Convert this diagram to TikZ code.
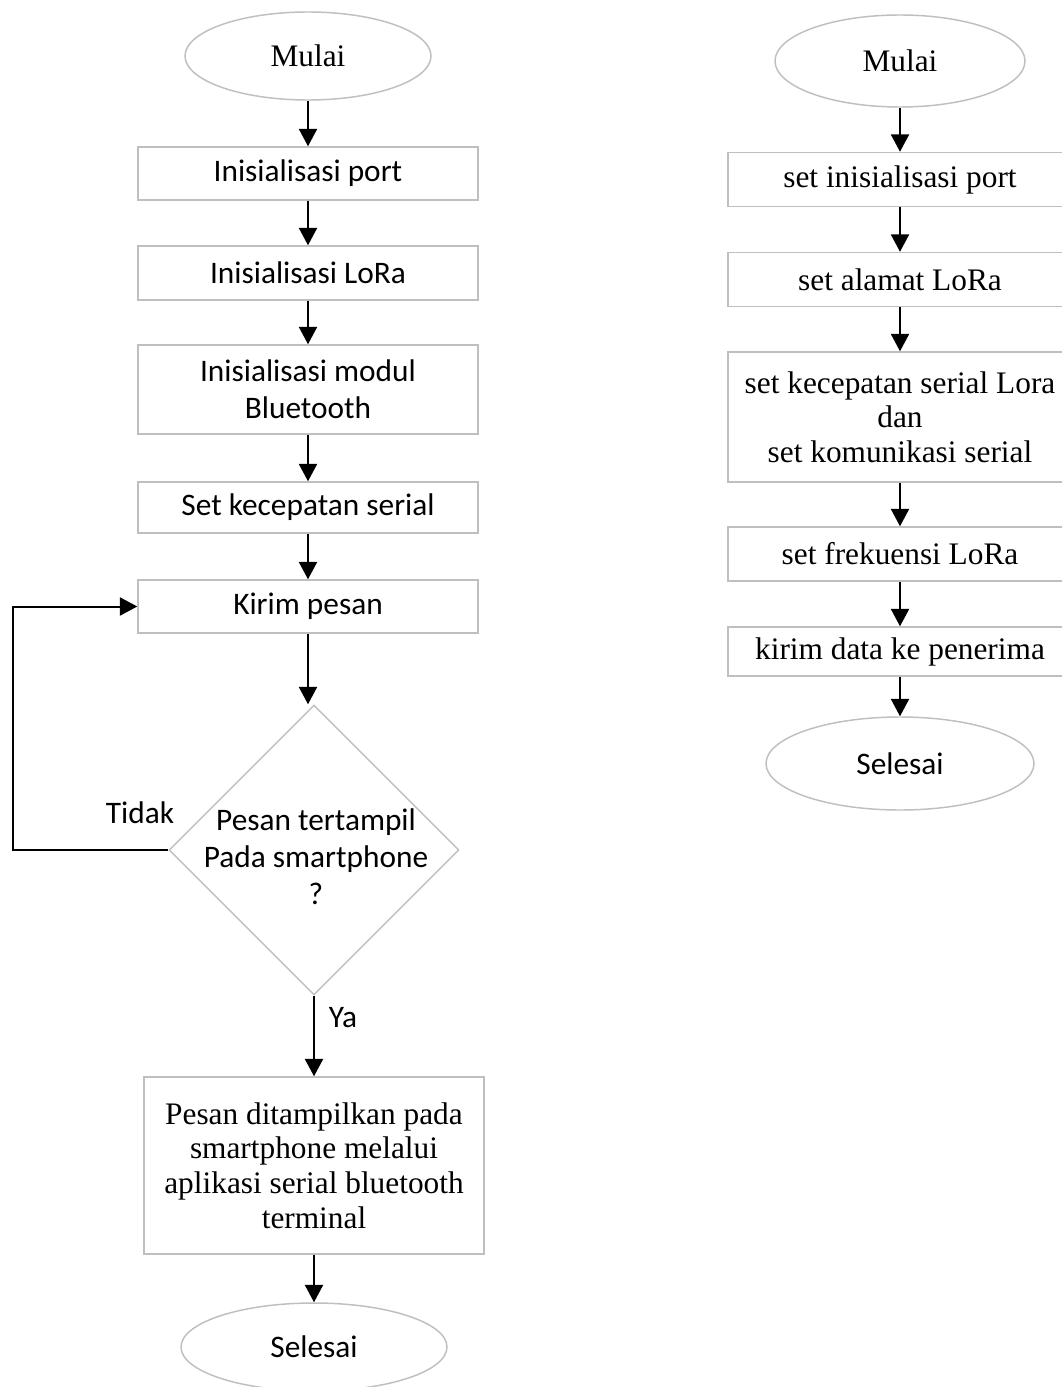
\documentclass[tikz,border=0pt]{standalone}
\usepackage{fontspec}
\setmainfont{Liberation Serif}
\newfontfamily\calibri{Carlito}
\usepackage{tikz}
\usetikzlibrary{shapes.geometric, arrows.meta}
\definecolor{garis}{RGB}{191,191,191}

\tikzset{
  kotak/.style={draw=garis, line width=1.1pt, rectangle, inner sep=0pt, align=center},
  oval/.style={draw=garis, line width=1.1pt, ellipse, inner sep=0pt},
  belah/.style={draw=garis, line width=1.1pt, diamond, inner sep=0pt, minimum width=217.5pt, minimum height=217.5pt},
  hurufsans/.style={font=\calibri\fontsize{23.5}{27.75}\selectfont},
  hurufserif/.style={font=\fontsize{23.5}{26}\selectfont},
  panah/.style={color=black, line width=1.5pt, -{Triangle[width=13.5pt,length=13pt]}}
}

\begin{document}
\begin{tikzpicture}[x=0.75pt, y=-0.75pt]
\useasboundingbox (0,0) rectangle (1062,1387);

\node[oval, hurufserif, minimum width=184.5pt, minimum height=66pt] (mulai1) at (308,56) {Mulai};
\node[kotak, hurufsans, minimum width=255pt, minimum height=39.75pt] (port1) at (308,173.5) {Inisialisasi port};
\node[kotak, hurufsans, minimum width=255pt, minimum height=40.5pt] (lora1) at (308,273) {Inisialisasi LoRa};
\node[kotak, hurufsans, minimum width=255pt, minimum height=66.75pt] (bt1) at (308,389.5) {Inisialisasi modul\\Bluetooth};
\node[kotak, hurufsans, minimum width=255pt, minimum height=38.25pt] (serial1) at (308,507.5) {Set kecepatan serial};
\node[kotak, hurufsans, minimum width=255pt, minimum height=39.75pt] (kirim1) at (308,606.5) {Kirim pesan};
\node[belah] (cek1) at (314,850) {};
\node[hurufsans, align=center] (cektext1) at (316,857) {Pesan tertampil\\Pada smartphone\\?};
\node[kotak, hurufserif, minimum width=255pt, minimum height=132.75pt] (tampil1) at (314,1165.5) {Pesan ditampilkan pada\\smartphone melalui\\aplikasi serial bluetooth\\terminal};
\node[oval, hurufsans, minimum width=199.5pt, minimum height=66pt] (selesai1) at (314,1347) {Selesai};
\node[hurufsans] (tidak1) at (140,813) {Tidak};
\node[hurufsans] (ya1) at (343,1018) {Ya};
\coordinate (balik1) at (13,850);

\draw[panah] (mulai1) -- (port1);
\draw[panah] (port1) -- (lora1);
\draw[panah] (lora1) -- (bt1);
\draw[panah] (bt1) -- (serial1);
\draw[panah] (serial1) -- (kirim1);
\draw[panah] (kirim1.south) -- (kirim1.south |- cek1.north);
\draw[panah] (cek1.west) -- (balik1) |- (kirim1.west);
\draw[panah] (cek1.south) -- (tampil1.north);
\draw[panah] (tampil1.south) -- (selesai1.north);

\node[oval, hurufserif, minimum width=187.5pt, minimum height=69pt] (mulai2) at (900,61) {Mulai};
\node[kotak, hurufserif, minimum width=258pt, minimum height=40.5pt] (port2) at (900,179.5) {set inisialisasi port};
\node[kotak, hurufserif, minimum width=258pt, minimum height=40.5pt] (alamat2) at (900,279.5) {set alamat LoRa};
\node[kotak, hurufserif, minimum width=258pt, minimum height=97.5pt] (kecepatan2) at (900,417) {set kecepatan serial Lora\\dan\\set komunikasi serial};
\node[kotak, hurufserif, minimum width=258pt, minimum height=40.5pt] (frek2) at (900,554) {set frekuensi LoRa};
\node[kotak, hurufserif, minimum width=258pt, minimum height=36.75pt] (kirim2) at (900,651.5) {kirim data ke penerima};
\node[oval, hurufsans, minimum width=201pt, minimum height=69.75pt] (selesai2) at (900,763.5) {Selesai};

\draw[panah] (mulai2) -- (port2);
\draw[panah] (port2) -- (alamat2);
\draw[panah] (alamat2) -- (kecepatan2);
\draw[panah] (kecepatan2) -- (frek2);
\draw[panah] (frek2) -- (kirim2);
\draw[panah] (kirim2) -- (selesai2);
\end{tikzpicture}
\end{document}
